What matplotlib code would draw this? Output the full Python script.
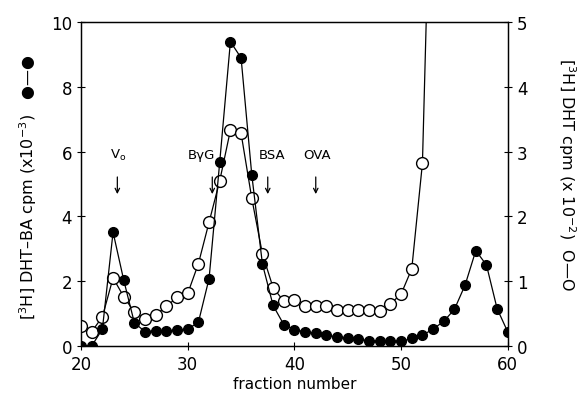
import matplotlib
matplotlib.use("Agg")
import matplotlib.pyplot as plt
import numpy as np

# fractions and values
fraction = np.arange(20, 61)
dht_ba = [0.0, 0.0, 0.52, 3.51, 2.03, 0.71, 0.44, 0.47, 0.47, 0.49,
          0.52, 0.73, 2.08, 5.68, 9.39, 8.89, 5.29, 2.53, 1.25, 0.66,
          0.50, 0.44, 0.39, 0.33, 0.28, 0.25, 0.21, 0.16, 0.14, 0.14,
          0.14, 0.23, 0.33, 0.52, 0.76, 1.13, 1.88, 2.94, 2.50, 1.15,
          0.43]

fraction_open = np.arange(20, 54)
dht = [0.31, 0.22, 0.45, 1.05, 0.76, 0.52, 0.42, 0.48, 0.61, 0.75,
       0.81, 1.27, 1.91, 2.55, 3.33, 3.28, 2.28, 1.42, 0.90, 0.69,
       0.71, 0.61, 0.61, 0.61, 0.56, 0.56, 0.56, 0.55, 0.54, 0.65,
       0.80, 1.19, 2.82, 9.0]

markers = ["V$_\\mathregular{o}$", "B\u03b3G", "BSA", "OVA"]
marker_x = [23.4, 32.3, 37.5, 42.0]
marker_text_x = [23.5, 31.3, 37.9, 42.1]

fig = plt.figure(figsize=(5.79, 4.02), dpi=100)
ax = fig.add_axes([0.14, 0.137, 0.737, 0.806])
ax2 = ax.twinx()

ax.plot(fraction, dht_ba, "-", color="black", lw=0.9, marker="o",
        ms=7, mfc="black", mec="black", zorder=3)
ax2.plot(fraction_open, dht, "-", color="black", lw=0.9, marker="o",
         ms=8.5, mfc="white", mec="black", mew=1.0, zorder=3)

ax.set_xlim(20, 60)
ax.set_ylim(0, 10)
ax2.set_ylim(0, 5)
ax.set_xticks([20, 30, 40, 50, 60])
ax.set_yticks([0, 2, 4, 6, 8, 10])
ax2.set_yticks([0, 1, 2, 3, 4, 5])

for a in (ax, ax2):
    a.tick_params(labelsize=12, direction="inout", length=6, width=0.8)
    for s in a.spines.values():
        s.set_linewidth(0.9)
ax.set_zorder(ax2.get_zorder() + 1)
ax.patch.set_visible(False)

ax.set_xlabel("fraction number", fontsize=11, labelpad=2)
fig.text(28 / 579, 1 - 187 / 402,
         "[$^\\mathregular{3}$H] DHT\u2013BA cpm (x10$^{\\mathregular{-3}}$)   \u25cf\u2014\u25cf",
         fontsize=11.5, rotation=90, ha="center", va="center")
fig.text(567 / 579, 1 - 175 / 402,
         "[$^\\mathregular{3}$H] DHT cpm (x 10$^{\\mathregular{-2}}$)  O\u2014O",
         fontsize=11.5, rotation=-90, ha="center", va="center")

for name, xa, xt in zip(markers, marker_x, marker_text_x):
    ax.text(xt, 5.9, name, ha="center", va="center", fontsize=9.5)
    ax.annotate("", xy=(xa, 4.6), xytext=(xa, 5.3),
                arrowprops=dict(arrowstyle="->", lw=0.9, color="black",
                                mutation_scale=8))

fig.savefig("out.png", dpi=100)
